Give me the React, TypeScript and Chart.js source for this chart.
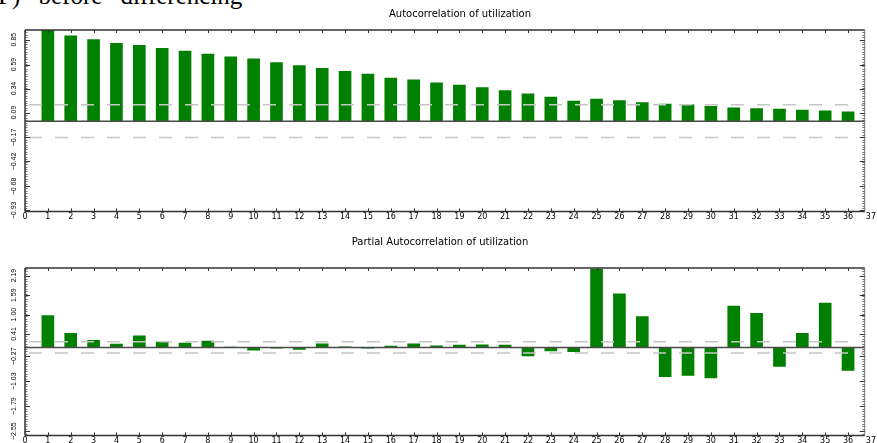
import React, { useEffect, useRef } from "react";
import { Chart, registerables } from "chart.js";

Chart.register(...registerables);

// ---- data ----
const lags = [1, 2, 3, 4, 5, 6, 7, 8, 9, 10, 11, 12, 13, 14, 15, 16, 17, 18, 19, 20, 21, 22, 23, 24, 25, 26, 27, 28, 29, 30, 31, 32, 33, 34, 35, 36];

const acfValues = [
  0.95, 0.89, 0.85, 0.81, 0.79, 0.76, 0.73, 0.70, 0.67, 0.65, 0.61, 0.58,
  0.55, 0.52, 0.49, 0.45, 0.43, 0.40, 0.375, 0.35, 0.32, 0.285, 0.25, 0.21,
  0.23, 0.215, 0.195, 0.177, 0.17, 0.156, 0.14, 0.13, 0.125, 0.115, 0.107, 0.097,
];

const pacfValues = [
  0.97, 0.43, 0.22, 0.10, 0.35, 0.16, 0.13, 0.19, 0.01, -0.08, -0.02, -0.06,
  0.11, 0.02, -0.02, 0.04, 0.11, 0.05, 0.07, 0.08, 0.07, -0.26, -0.11, -0.13,
  2.39, 1.63, 0.94, -0.89, -0.85, -0.93, 1.26, 1.04, -0.58, 0.43, 1.35, -0.70,
];

const acfTickLabels = ["-0.93", "-0.68", "-0.42", "-0.17", "0.09", "0.34", "0.59", "0.85"];
const pacfTickLabels = ["-2.55", "-1.79", "-1.03", "-0.27", "0.41", "1.00", "1.59", "2.19"];

const acfTitle = "Autocorrelation of utilization";
const pacfTitle = "Partial Autocorrelation of utilization";
const docText = "F) before differencing";

const acfBound = 0.17;
const pacfBound = 0.17;

// ---- drawing helpers ----
const decorPlugin = {
  id: "decor",
  afterDatasetsDraw(chart: any, _args: any, o: any) {
    const { ctx, chartArea: ca } = chart;
    const xs = chart.scales.x;
    const ys = chart.scales.y;
    const left = xs.getPixelForValue(0);
    const right = xs.getPixelForValue(o.frameRight);
    const top = ca.top;
    const bottom = ca.bottom;
    ctx.save();

    // confidence bounds
    ctx.strokeStyle = "#c6c6c6";
    ctx.lineWidth = 1.5;
    ctx.setLineDash([13, 13]);
    [o.bound, -o.bound].forEach((b: number) => {
      const py = ys.getPixelForValue(b);
      ctx.beginPath();
      ctx.moveTo(left + 4, py);
      ctx.lineTo(right, py);
      ctx.stroke();
    });
    ctx.setLineDash([]);

    // zero line
    ctx.strokeStyle = "#4a4a4a";
    ctx.lineWidth = 1.5;
    const zy = ys.getPixelForValue(0);
    ctx.beginPath();
    ctx.moveTo(left, zy);
    ctx.lineTo(right, zy);
    ctx.stroke();

    // frame
    ctx.strokeStyle = "#333";
    ctx.lineWidth = 1.5;
    ctx.beginPath();
    ctx.moveTo(left, top);
    ctx.lineTo(right, top);
    ctx.moveTo(left, bottom);
    ctx.lineTo(right, bottom);
    ctx.moveTo(left, top);
    ctx.lineTo(left, bottom);
    ctx.stroke();
    ctx.strokeStyle = "#777";
    ctx.lineWidth = 1;
    ctx.beginPath();
    ctx.moveTo(right, top);
    ctx.lineTo(right, bottom);
    ctx.stroke();

    // x ticks (inside, top and bottom)
    ctx.strokeStyle = "#333";
    ctx.lineWidth = 1;
    ctx.beginPath();
    xs.ticks.forEach((t: any) => {
      if (t.value > o.frameRight) return;
      const px = Math.round(xs.getPixelForValue(t.value)) + 0.5;
      ctx.moveTo(px, bottom);
      ctx.lineTo(px, bottom - 3);
      ctx.moveTo(px, top);
      ctx.lineTo(px, top + 3);
    });
    ctx.stroke();

    // y minor ticks
    ctx.strokeStyle = "#555";
    ctx.lineWidth = 0.8;
    ctx.beginPath();
    const base = parseFloat(o.yLabels[0]);
    for (let v = base; v <= ys.max; v += o.minorStep) {
      const py = Math.round(ys.getPixelForValue(v)) + 0.5;
      ctx.moveTo(left, py);
      ctx.lineTo(left + 2.5, py);
      ctx.moveTo(right, py);
      ctx.lineTo(right - 2.5, py);
    }
    for (let v = base - o.minorStep; v >= ys.min; v -= o.minorStep) {
      const py = Math.round(ys.getPixelForValue(v)) + 0.5;
      ctx.moveTo(left, py);
      ctx.lineTo(left + 2.5, py);
      ctx.moveTo(right, py);
      ctx.lineTo(right - 2.5, py);
    }
    ctx.stroke();

    // y major ticks + rotated labels
    ctx.strokeStyle = "#333";
    ctx.lineWidth = 1;
    ctx.beginPath();
    o.yLabels.forEach((l: string) => {
      const py = Math.round(ys.getPixelForValue(parseFloat(l))) + 0.5;
      ctx.moveTo(left, py);
      ctx.lineTo(left + 5, py);
      ctx.moveTo(right, py);
      ctx.lineTo(right - 5, py);
    });
    ctx.stroke();

    ctx.fillStyle = "#000";
    ctx.font = '7px "Liberation Sans"';
    ctx.textAlign = "center";
    ctx.textBaseline = "middle";
    o.yLabels.forEach((l: string) => {
      const py = ys.getPixelForValue(parseFloat(l));
      ctx.save();
      ctx.translate(left - 11, py);
      ctx.rotate(-Math.PI / 2);
      ctx.fillText(l.replace("-", "\u2212"), 0, 0);
      ctx.restore();
    });

    // title
    ctx.font = '10px "DejaVu Sans"';
    ctx.textAlign = "center";
    ctx.textBaseline = "middle";
    ctx.fillText(o.title, o.titleX, o.titleY);

    ctx.restore();
  },
};

type PanelProps = {
  values: number[];
  yMin: number;
  yMax: number;
  yLabels: string[];
  minorStep: number;
  bound: number;
  title: string;
  titleX: number;
  titleY: number;
  top: number;
  height: number;
  padTop: number;
};

function Panel(p: PanelProps) {
  const ref = useRef<HTMLCanvasElement | null>(null);
  useEffect(() => {
    if (!ref.current) return;
    const chart = new Chart(ref.current, {
      type: "bar",
      data: {
        datasets: [
          {
            data: lags.map((l, i) => ({ x: l, y: p.values[i] })),
            backgroundColor: "#008000",
            borderWidth: 0,
            barThickness: 12,
          },
        ],
      },
      options: {
        responsive: false,
        animation: false,
        layout: {
          autoPadding: false,
          padding: { top: p.padTop, left: 25, right: 0, bottom: 0 },
        },
        plugins: {
          legend: { display: false },
          tooltip: { enabled: false },
          title: { display: false },
          decor: {
            frameRight: 36.73,
            bound: p.bound,
            yLabels: p.yLabels,
            minorStep: p.minorStep,
            title: p.title,
            titleX: p.titleX,
            titleY: p.titleY,
          },
        } as any,
        scales: {
          x: {
            type: "linear",
            min: 0,
            max: 37,
            offset: false,
            grid: { display: false, drawTicks: false, offset: false },
            border: { display: false },
            ticks: {
              stepSize: 1,
              autoSkip: false,
              maxRotation: 0,
              padding: 1,
              color: "#000",
              font: { family: "DejaVu Sans", size: 8 },
            },
          },
          y: {
            display: false,
            min: p.yMin,
            max: p.yMax,
          },
        },
      } as any,
      plugins: [decorPlugin as any],
    });
    return () => chart.destroy();
  }, []);
  return (
    <canvas
      ref={ref}
      width={877}
      height={p.height}
      style={{ position: "absolute", left: 0, top: p.top, width: 877, height: p.height }}
    />
  );
}

export default function App() {
  return (
    <div
      style={{
        position: "absolute",
        left: 0,
        top: 0,
        width: 877,
        height: 443,
        overflow: "hidden",
        background: "#fff",
      }}
    >
      <div
        style={{
          position: "absolute",
          left: -2,
          top: -17,
          fontFamily: '"Liberation Serif", serif',
          fontSize: 25,
          lineHeight: 1,
          wordSpacing: 12,
          whiteSpace: "nowrap",
          color: "#000",
        }}
      >
        {docText}
      </div>
      <Panel
        values={acfValues}
        yMin={-0.94}
        yMax={0.95}
        yLabels={acfTickLabels}
        minorStep={0.02543}
        bound={acfBound}
        title={acfTitle}
        titleX={460}
        titleY={14}
        top={0}
        height={223}
        padTop={30}
      />
      <Panel
        values={pacfValues}
        yMin={-2.68}
        yMax={2.42}
        yLabels={pacfTickLabels}
        minorStep={0.076}
        bound={pacfBound}
        title={pacfTitle}
        titleX={440}
        titleY={19}
        top={223}
        height={224}
        padTop={45}
      />
    </div>
  );
}
